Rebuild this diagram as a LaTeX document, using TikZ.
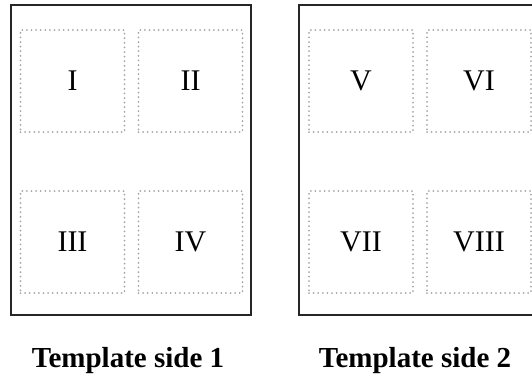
\documentclass[tikz,border=0pt]{standalone}
\usepackage{fontspec}
\setmainfont{Liberation Serif}
\begin{document}
\begin{tikzpicture}[x=1pt,y=-1pt,
  sheet/.style={draw=black!85,line width=1.3pt},
  cell/.style={draw=gray!70,line width=2pt,line cap=round,dash pattern=on 0pt off 4.6pt,
    minimum width=104pt,minimum height=102pt,inner sep=0pt,
    font=\fontsize{30}{32}\selectfont},
  caption/.style={font=\fontsize{29}{31}\selectfont\bfseries,anchor=base,inner sep=0pt}]
\useasboundingbox (0,0) rectangle (532,376);
\clip (0,0) rectangle (532,376);
\node[sheet,minimum width=240pt,minimum height=310pt,inner sep=0pt] (s1) at (131,160) {};
\node[sheet,minimum width=240pt,minimum height=310pt,inner sep=0pt] (s2) at (419,160) {};
\node[cell] (c1) at (72.5,81) {I};
\node[cell] (c2) at (190.5,81) {II};
\node[cell] (c3) at (72.5,242) {III};
\node[cell] (c4) at (190.5,242) {IV};
\node[cell] (c5) at (361,81) {V};
\node[cell] (c6) at (479,81) {VI};
\node[cell] (c7) at (361,242) {VII};
\node[cell] (c8) at (479,242) {VIII};
\node[caption] (t1) at (128,367) {Template side 1};
\node[caption] (t2) at (415,367) {Template side 2};
\end{tikzpicture}
\end{document}
